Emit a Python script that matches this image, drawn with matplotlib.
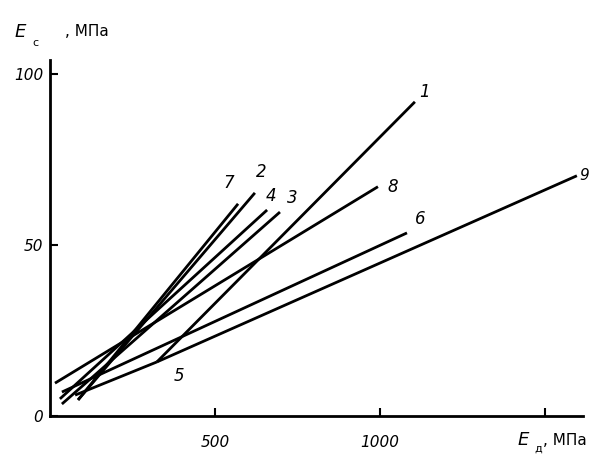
import matplotlib.pyplot as plt

# curve endpoints (E_d, E_c in MPa)
names = ['1', '2', '3', '4', '5', '6', '7', '8', '9']
x_start = [324, 85, 36, 30, 76, 36, 85, 15, 324]
y_start = [15.8, 4.7, 3.5, 5.0, 6.1, 7.0, 4.7, 9.6, 15.8]
x_end = [1106, 621, 697, 658, 324, 1082, 570, 994, 1597]
y_end = [91.8, 65.2, 59.6, 60.2, 15.8, 53.5, 62.0, 67.0, 70.2]

x_ticks = [500, 1000, 1500]
x_ticklabels = ['500', '1000', '']
y_ticks = [0, 50, 100]
y_ticklabels = ['0', '50', '100']

fig = plt.figure(figsize=(5.92, 4.54), dpi=100)
ax = fig.add_axes([0.0845, 0.0837, 0.900, 0.784])

for i in range(len(names)):
    ax.plot([x_start[i], x_end[i]], [y_start[i], y_end[i]], color='black', lw=2.0,
            solid_capstyle='butt')

# curve numbers near the upper ends
label_off = {'1': (14, 3), '2': (2, 6), '3': (22, 4), '4': (-4, 4), '5': (50, -4),
             '6': (24, 4), '7': (-45, 6), '8': (28, 0), '9': (8, 0)}
for i, n in enumerate(names):
    dx, dy = label_off[n]
    ax.text(x_end[i] + dx, y_end[i] + dy, n, fontsize=12 if n != '9' else 11,
            style='italic', ha='left', va='center')

ax.set_xlim(0, 1615)
ax.set_ylim(0, 104)
ax.spines['top'].set_visible(False)
ax.spines['right'].set_visible(False)
ax.spines['left'].set_linewidth(2)
ax.spines['bottom'].set_linewidth(2)
ax.set_xticks(x_ticks)
ax.set_xticklabels(x_ticklabels, fontsize=11, style='italic')
ax.set_yticks(y_ticks)
ax.set_yticklabels(y_ticklabels, fontsize=11, style='italic')
ax.tick_params(direction='in', length=6, width=1.5)
ax.tick_params(axis='x', pad=14)
ax.tick_params(axis='y', pad=5)

# axis titles
fig.text(0.025, 0.930, 'E', fontsize=13, style='italic', va='center')
fig.text(0.055, 0.905, 'c', fontsize=8, va='center')
fig.text(0.110, 0.930, ', МПа', fontsize=11, va='center')
fig.text(0.875, 0.030, 'E', fontsize=13, style='italic', va='center')
fig.text(0.903, 0.012, 'д', fontsize=8, va='center')
fig.text(0.918, 0.030, ', МПа', fontsize=11, va='center')

fig.savefig('out.png', dpi=100)
